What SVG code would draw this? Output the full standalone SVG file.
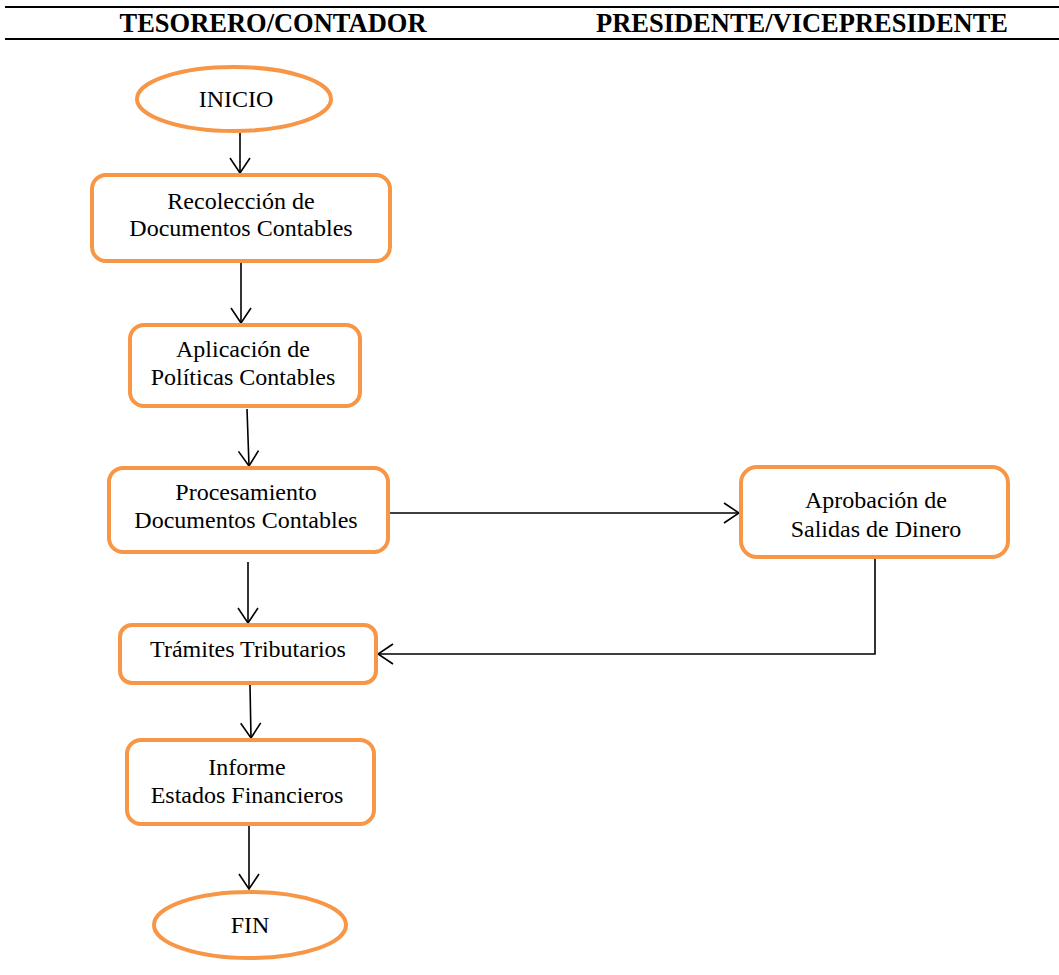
<svg xmlns="http://www.w3.org/2000/svg" width="1059" height="975" viewBox="0 0 1059 975">
  <style>
    .head { font-family: "Liberation Serif", "Times New Roman", serif; font-weight: bold; font-size: 27px; fill: #000; text-anchor: middle; }
    .rule { stroke: #000; stroke-width: 2.2; }
    .box { fill: #fff; stroke: #F79646; stroke-width: 4; }
    .lbl { font-family: "Liberation Serif", "Times New Roman", serif; font-size: 24px; fill: #000; text-anchor: middle; }
    .wire { fill: none; stroke: #000; stroke-width: 1.6; marker-end: url(#arrow); }
  </style>
  <defs>
    <marker id="arrow" markerUnits="userSpaceOnUse" viewBox="0 0 17 22" refX="16" refY="11" markerWidth="17" markerHeight="22" orient="auto">
      <path d="M1,1 L16,11 L1,21" fill="none" stroke="#000" stroke-width="1.6"/>
    </marker>
  </defs>

  <rect width="1059" height="975" fill="#fff"/>

  <!-- column header band -->
  <g id="header">
    <line class="rule" x1="5" y1="7" x2="1059" y2="7"/>
    <line class="rule" x1="5" y1="39" x2="1059" y2="39"/>
    <text class="head" x="273" y="32" textLength="307" lengthAdjust="spacingAndGlyphs">TESORERO/CONTADOR</text>
    <text class="head" x="802" y="32" textLength="412" lengthAdjust="spacingAndGlyphs">PRESIDENTE/VICEPRESIDENTE</text>
  </g>

  <!-- connectors -->
  <g id="connectors">
    <line class="wire" x1="240" y1="133" x2="240" y2="173"/>
    <line class="wire" x1="241" y1="263" x2="241" y2="323"/>
    <line class="wire" x1="247" y1="409" x2="249" y2="466"/>
    <line class="wire" x1="248" y1="562" x2="248" y2="623"/>
    <line class="wire" x1="250" y1="685" x2="251" y2="738"/>
    <line class="wire" x1="249" y1="826" x2="249" y2="889"/>
    <line class="wire" x1="390" y1="513" x2="739" y2="513"/>
    <polyline class="wire" points="875,559 875,654 378,654"/>
  </g>

  <g id="inicio">
    <ellipse class="box" cx="234" cy="99" rx="97" ry="32"/>
    <text class="lbl" x="236" y="107">INICIO</text>
  </g>

  <g id="recoleccion">
    <rect class="box" x="92" y="175" width="298" height="86" rx="14"/>
    <text class="lbl" x="241" y="209">Recolección de</text>
    <text class="lbl" x="241" y="236">Documentos Contables</text>
  </g>

  <g id="aplicacion">
    <rect class="box" x="130" y="325" width="230" height="81" rx="14"/>
    <text class="lbl" x="243" y="357">Aplicación de</text>
    <text class="lbl" x="243" y="385">Políticas Contables</text>
  </g>

  <g id="procesamiento">
    <rect class="box" x="109" y="468" width="279" height="84" rx="14"/>
    <text class="lbl" x="246" y="500">Procesamiento</text>
    <text class="lbl" x="246" y="528">Documentos Contables</text>
  </g>

  <g id="aprobacion">
    <rect class="box" x="741" y="467" width="267" height="90" rx="16"/>
    <text class="lbl" x="876" y="508">Aprobación de</text>
    <text class="lbl" x="876" y="537">Salidas de Dinero</text>
  </g>

  <g id="tramites">
    <rect class="box" x="120" y="625" width="256" height="58" rx="12"/>
    <text class="lbl" x="248" y="657">Trámites Tributarios</text>
  </g>

  <g id="informe">
    <rect class="box" x="127" y="740" width="247" height="84" rx="14"/>
    <text class="lbl" x="247" y="775">Informe</text>
    <text class="lbl" x="247" y="803">Estados Financieros</text>
  </g>

  <g id="fin">
    <ellipse class="box" cx="250" cy="925" rx="96" ry="33"/>
    <text class="lbl" x="250" y="933">FIN</text>
  </g>
</svg>
